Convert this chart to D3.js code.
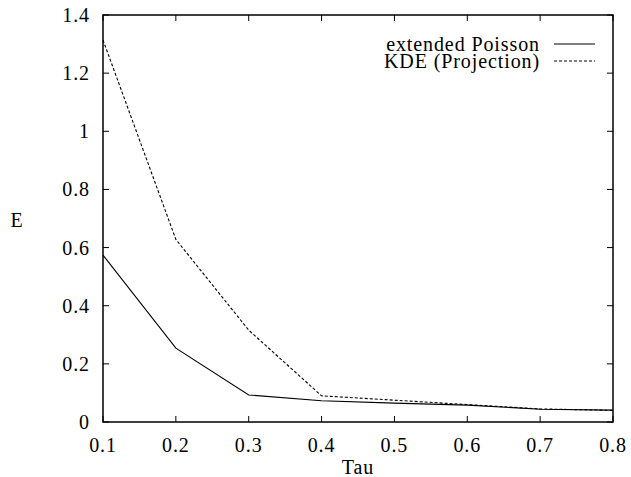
<!DOCTYPE html>
<html>
<head>
<meta charset="utf-8">
<script src="https://cdn.jsdelivr.net/npm/d3@7"></script>
<style>
  body { margin: 0; background: #fff; }
</style>
</head>
<body>
<svg id="chart" width="631" height="477"></svg>
<script>
// data
const tau = [0.1, 0.2, 0.3, 0.4, 0.5, 0.6, 0.7, 0.8];
const poisson = [0.574, 0.254, 0.093, 0.073, 0.065, 0.058, 0.044, 0.041];
const kde = [1.314, 0.628, 0.316, 0.090, 0.075, 0.060, 0.045, 0.040];
const xTicks = [0.1, 0.2, 0.3, 0.4, 0.5, 0.6, 0.7, 0.8];
const yTicks = [0, 0.2, 0.4, 0.6, 0.8, 1, 1.2, 1.4];
const seriesNames = ['extended Poisson', 'KDE (Projection)'];

const plotLeft = 103, plotRight = 613, plotTop = 15, plotBottom = 422;
const svg = d3.select('#chart')
    .attr('font-family', '"Liberation Serif", "Times New Roman", serif')
    .attr('font-size', 20)
    .attr('letter-spacing', '0.9px');

const x = d3.scaleLinear().domain([0.1, 0.8]).range([plotLeft, plotRight]);
const y = d3.scaleLinear().domain([0, 1.4]).range([plotBottom, plotTop]);

const tickLen = 6;

// tick marks, mirrored on all four sides
const g = svg.append('g').attr('stroke', '#000').attr('stroke-width', 1);
xTicks.forEach(t => {
    g.append('line').attr('x1', x(t)).attr('x2', x(t)).attr('y1', plotBottom).attr('y2', plotBottom - tickLen);
    g.append('line').attr('x1', x(t)).attr('x2', x(t)).attr('y1', plotTop).attr('y2', plotTop + tickLen);
});
yTicks.forEach(t => {
    g.append('line').attr('x1', plotLeft).attr('x2', plotLeft + tickLen).attr('y1', y(t)).attr('y2', y(t));
    g.append('line').attr('x1', plotRight).attr('x2', plotRight - tickLen).attr('y1', y(t)).attr('y2', y(t));
});

// tick labels
svg.selectAll('.xl').data(xTicks).enter().append('text')
    .attr('x', d => x(d)).attr('y', 452)
    .attr('text-anchor', 'middle')
    .text(d => d3.format('.1f')(d));

svg.selectAll('.yl').data(yTicks).enter().append('text')
    .attr('x', 90).attr('y', d => y(d) + 7)
    .attr('text-anchor', 'end')
    .text(d => d3.format('~g')(d));

// axis titles
svg.append('text').attr('x', 358).attr('y', 474).attr('text-anchor', 'middle').text('Tau');
svg.append('text').attr('x', 17).attr('y', 227).attr('text-anchor', 'middle').text('E');

// lines
const line = vals => d3.line().x((d, i) => x(tau[i])).y(d => y(d))(vals);

svg.append('path').attr('d', line(poisson))
    .attr('fill', 'none').attr('stroke', '#000').attr('stroke-width', 1.1);
svg.append('path').attr('d', line(kde))
    .attr('fill', 'none').attr('stroke', '#000').attr('stroke-width', 1.1)
    .attr('stroke-dasharray', '3,2');

// legend
const dashes = [null, '3,2'];
seriesNames.forEach((name, i) => {
    const ly = 44 + i * 17;
    svg.append('text').attr('x', 540).attr('y', ly + 7).attr('text-anchor', 'end').text(name);
    svg.append('line').attr('x1', 554).attr('x2', 595).attr('y1', ly).attr('y2', ly)
        .attr('stroke', '#000').attr('stroke-width', 1.1)
        .attr('stroke-dasharray', dashes[i]);
});

// frame
svg.append('rect').attr('x', plotLeft).attr('y', plotTop)
    .attr('width', plotRight - plotLeft).attr('height', plotBottom - plotTop)
    .attr('fill', 'none').attr('stroke', '#000').attr('stroke-width', 1.5);
</script>
</body>
</html>
